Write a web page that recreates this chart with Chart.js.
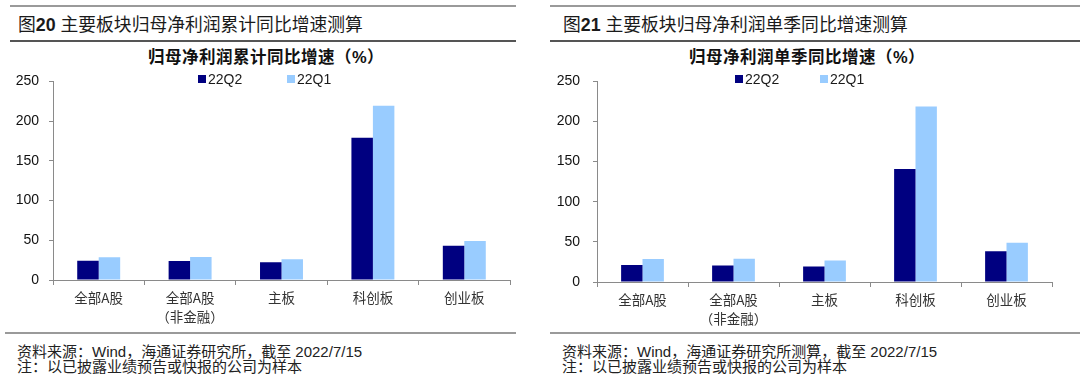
<!DOCTYPE html>
<html>
<head>
<meta charset="utf-8">
<script src="https://cdn.jsdelivr.net/npm/chart.js@4.4.1/dist/chart.umd.min.js"></script>
<style>
  body { margin: 0; width: 1080px; height: 385px; background: #fff; position: relative; overflow: hidden;
         font-family: "Liberation Sans", "Noto Sans CJK SC", sans-serif; color: #1a1a1a; }
  .rule { position: absolute; background: #9a9a9a; }
  .head { position: absolute; top: 13px; font-size: 17.8px; line-height: 24px; white-space: nowrap; }
  .head b { font-family: "Liberation Sans", sans-serif; }
  .ctitle { position: absolute; top: 47px; font-size: 16.5px; font-weight: bold; line-height: 20px;
            white-space: nowrap; transform: translateX(-50%); color: #111; letter-spacing: 0.5px; }
  .lg { position: absolute; top: 71px; font-size: 14px; line-height: 16px; white-space: nowrap; padding-left: 10px; z-index: 2; }
  .lg i { position: absolute; left: 0; top: 4px; width: 8px; height: 8px; }
  .box { position: absolute; width: 540px; }
  .foot { position: absolute; font-size: 15px; line-height: 18px; white-space: nowrap; color: #222; }
</style>
</head>
<body>
<!-- left panel -->
<div class="rule" style="left:10px;width:506px;top:5px;height:2px"></div>
<div class="head" style="left:18px">图<b>20</b> 主要板块归母净利润累计同比增速测算</div>
<div class="rule" style="left:10px;width:506px;top:40px;height:1.5px;background:#555"></div>
<div class="ctitle" style="left:266px">归母净利润累计同比增速（%）</div>
<div class="box" style="left:0;top:63px;height:267px"><canvas id="chartLeft"></canvas></div>
<div class="lg" style="left:198px"><i style="background:#000080"></i>22Q2</div>
<div class="lg" style="left:287px"><i style="background:#99ccff"></i>22Q1</div>
<div class="rule" style="left:5px;width:511px;top:332px;height:2px"></div>
<div class="foot" style="left:17px;top:343px">资料来源：Wind，海通证券研究所，截至 2022/7/15</div>
<div class="foot" style="left:17px;top:358px">注：以已披露业绩预告或快报的公司为样本</div>

<!-- right panel -->
<div class="rule" style="left:550px;width:530px;top:5px;height:2px"></div>
<div class="head" style="left:563px">图<b>21</b> 主要板块归母净利润单季同比增速测算</div>
<div class="rule" style="left:550px;width:530px;top:40px;height:1.5px;background:#555"></div>
<div class="ctitle" style="left:807px">归母净利润单季同比增速（%）</div>
<div class="box" style="left:540px;top:60px;height:272px"><canvas id="chartRight"></canvas></div>
<div class="lg" style="left:735px"><i style="background:#000080"></i>22Q2</div>
<div class="lg" style="left:820px"><i style="background:#99ccff"></i>22Q1</div>
<div class="rule" style="left:550px;width:530px;top:332px;height:2px"></div>
<div class="foot" style="left:562px;top:343px">资料来源：Wind，海通证券研究所测算，截至 2022/7/15</div>
<div class="foot" style="left:562px;top:358px">注：以已披露业绩预告或快报的公司为样本</div>

<script>
  // categories shared by both charts
  var categories = [['全部A股'], ['全部A股', '（非金融）'], ['主板'], ['科创板'], ['创业板']];
  var yTicks = [0, 50, 100, 150, 200, 250];

  // 累计同比增速 (%)
  var cumQ2 = [24.2, 24.0, 22.2, 179.2, 43.1];
  var cumQ1 = [28.5, 29.0, 26.0, 219.5, 49.0];

  // 单季同比增速 (%)
  var sglQ2 = [21.3, 20.5, 19.3, 140.9, 38.4];
  var sglQ1 = [28.8, 29.0, 26.8, 218.8, 49.0];

  var axisColor = '#8a8a8a';

  function makeChart(id, q2, q1, yWidth, padRight, yPad) {
    var ctx = document.getElementById(id).getContext('2d');
    return new Chart(ctx, {
      type: 'bar',
      data: {
        labels: categories,
        datasets: [
          { label: '22Q2', data: q2, backgroundColor: '#000080', categoryPercentage: 0.47, barPercentage: 1 },
          { label: '22Q1', data: q1, backgroundColor: '#99ccff', categoryPercentage: 0.47, barPercentage: 1 }
        ]
      },
      options: {
        responsive: true,
        maintainAspectRatio: false,
        animation: false,
        layout: { padding: { left: 0, right: padRight, top: 0, bottom: 0 } },
        plugins: {
          legend: { display: false },
          tooltip: { enabled: false }
        },
        scales: {
          x: {
            grid: { drawOnChartArea: false, tickLength: 5, color: axisColor, offset: true },
            border: { color: axisColor, width: 1 },
            ticks: {
              color: '#333',
              padding: 4,
              maxRotation: 0,
              autoSkip: false,
              font: { family: '"Noto Sans CJK SC", sans-serif', size: 13.5, lineHeight: 1.36 }
            },
            afterFit: function (scale) { scale.height = 50; }
          },
          y: {
            min: 0,
            max: 250,
            afterBuildTicks: function (scale) {
              scale.ticks = yTicks.map(function (v) { return { value: v }; });
            },
            grid: { drawOnChartArea: false, tickLength: 4, color: axisColor },
            border: { color: axisColor, width: 1 },
            ticks: {
              color: '#111',
              padding: yPad,
              font: { family: '"Liberation Sans", sans-serif', size: 14 }
            },
            afterFit: function (scale) { scale.width = yWidth; }
          }
        }
      }
    });
  }

  makeChart('chartLeft', cumQ2, cumQ1, 53, 30, 10);
  makeChart('chartRight', sglQ2, sglQ1, 57, 28, 13);
</script>
</body>
</html>
